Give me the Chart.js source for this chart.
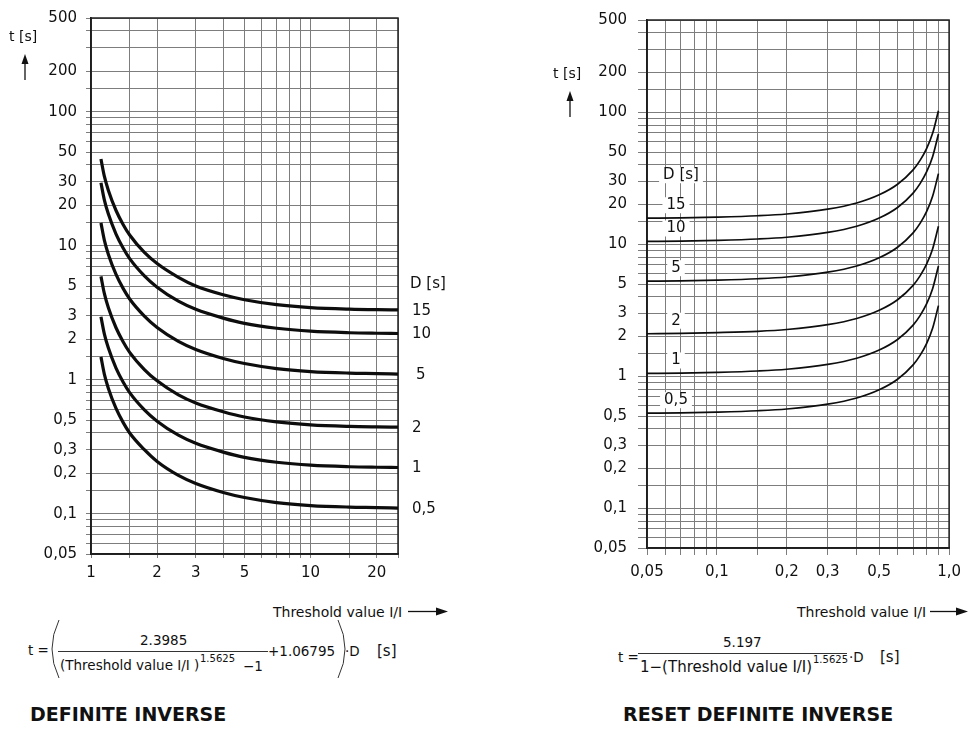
<!DOCTYPE html>
<html>
<head>
<meta charset="utf-8">
<title>Definite inverse / reset definite inverse</title>
<script src="https://cdn.jsdelivr.net/npm/chart.js@4.4.1/dist/chart.umd.min.js"></script>
<style>
  body { margin: 0; background: #fff; }
  #page { position: relative; width: 969px; height: 729px; overflow: hidden;
          font-family: "DejaVu Sans", sans-serif; color: #111; }
  #page canvas { position: absolute; top: 0; }
  .t { position: absolute; white-space: nowrap; line-height: 1; }
  .f { font-size: 13.5px; }
  .sup { font-size: 10px; }
  .title { font-weight: bold; font-size: 19px; }
  svg { position: absolute; left: 0; top: 0; pointer-events: none; }
</style>
</head>
<body>
<div id="page">
  <canvas id="leftChart" width="460" height="600" style="left:0"></canvas>
  <canvas id="rightChart" width="449" height="600" style="left:520px"></canvas>

  <!-- axis captions -->
  <div class="t" style="left:9px;top:29px;font-size:14px">t [s]</div>
  <div class="t" style="left:553px;top:66px;font-size:14px">t [s]</div>
  <div class="t" style="left:273px;top:605px;font-size:14px">Threshold value I/I</div>
  <div class="t" style="left:797px;top:605px;font-size:14px">Threshold value I/I</div>

  <!-- definite inverse formula -->
  <div class="t f" style="left:28px;top:644px">t =</div>
  <div class="t f" style="left:140px;top:634px">2.3985</div>
  <div class="t f" style="left:60px;top:659px">(Threshold value I/I )</div>
  <div class="t sup" style="left:200px;top:654px">1.5625</div>
  <div class="t f" style="left:243px;top:660px">−1</div>
  <div class="t f" style="left:268px;top:645px">+1.06795</div>
  <div class="t f" style="left:345px;top:645px">·D</div>
  <div class="t f" style="left:377px;top:644px;font-size:15px">[s]</div>

  <!-- reset definite inverse formula -->
  <div class="t f" style="left:618px;top:651px">t =</div>
  <div class="t f" style="left:723px;top:636px">5.197</div>
  <div class="t" style="left:640px;top:660px;font-size:15px">1−(Threshold value I/I)</div>
  <div class="t sup" style="left:813px;top:655px">1.5625</div>
  <div class="t f" style="left:849px;top:651px">·D</div>
  <div class="t f" style="left:880px;top:650px;font-size:15px">[s]</div>

  <div class="t title" style="left:30px;top:705px">DEFINITE INVERSE</div>
  <div class="t title" style="left:623px;top:705px">RESET DEFINITE INVERSE</div>

  <svg width="969" height="729">
    <g stroke="#111" fill="none" stroke-width="1.3">
      <line x1="25" y1="80" x2="25" y2="62"/>
      <line x1="570" y1="117" x2="570" y2="99"/>
      <line x1="408" y1="611.5" x2="437" y2="611.5"/>
      <line x1="930" y1="611.5" x2="957" y2="611.5"/>
    </g>
    <g fill="#111">
      <polygon points="25,54 21.5,64 28.5,64"/>
      <polygon points="570,91 566.5,101 573.5,101"/>
      <polygon points="448,611.5 436,607.5 436,615.5"/>
      <polygon points="968,611.5 956,607.5 956,615.5"/>
    </g>
    <g stroke="#333" fill="none" stroke-width="1">
      <line x1="58" y1="651.5" x2="268" y2="651.5"/>
      <line x1="638" y1="653.5" x2="847" y2="653.5"/>
      <path d="M59 620 Q45 649 59 678"/>
      <path d="M338 620 Q352 649 338 678"/>
    </g>
  </svg>
</div>

<script>
// Threshold values (I/I) where the curves were read
const leftThreshold = [1.11, 1.15, 1.2, 1.3, 1.4, 1.5, 1.75, 2, 2.5, 3, 4, 5, 7, 10, 15, 20, 25];
// definite inverse, t [s] per time dial D
const leftD15 = [44.3, 33.0, 25.8, 18.3, 14.4, 12.0, 8.9, 7.35, 5.8, 5.0, 4.3, 3.95, 3.63, 3.45, 3.36, 3.33, 3.32];
const leftD10 = [29.5, 22.0, 17.2, 12.2, 9.6, 8.0, 5.95, 4.9, 3.85, 3.35, 2.88, 2.63, 2.42, 2.30, 2.24, 2.22, 2.21];
const leftD5 = [14.8, 11.0, 8.6, 6.1, 4.8, 4.0, 2.98, 2.45, 1.93, 1.68, 1.44, 1.32, 1.21, 1.15, 1.12, 1.11, 1.10];
const leftD2 = [5.9, 4.4, 3.44, 2.44, 1.92, 1.6, 1.19, 0.98, 0.77, 0.67, 0.576, 0.526, 0.484, 0.46, 0.448, 0.444, 0.442];
const leftD1 = [2.95, 2.2, 1.72, 1.22, 0.96, 0.8, 0.595, 0.49, 0.385, 0.335, 0.288, 0.263, 0.242, 0.23, 0.224, 0.222, 0.221];
const leftD05 = [1.48, 1.1, 0.86, 0.61, 0.48, 0.4, 0.3, 0.245, 0.193, 0.168, 0.144, 0.132, 0.121, 0.115, 0.112, 0.111, 0.110];

const rightThreshold = [0.05, 0.07, 0.1, 0.15, 0.2, 0.3, 0.4, 0.5, 0.6, 0.7, 0.75, 0.8, 0.85, 0.9];
// reset definite inverse, t [s] per time dial D
const rightD15 = [15.75, 15.84, 16.05, 16.44, 16.95, 18.45, 20.55, 23.7, 28.5, 36.6, 43.2, 53.0, 69.5, 102.8];
const rightD10 = [10.5, 10.56, 10.7, 10.96, 11.3, 12.3, 13.7, 15.8, 19.0, 24.4, 28.8, 35.3, 46.3, 68.5];
const rightD5 = [5.25, 5.28, 5.35, 5.48, 5.65, 6.15, 6.85, 7.9, 9.5, 12.2, 14.4, 17.65, 23.2, 34.3];
const rightD2 = [2.1, 2.11, 2.14, 2.19, 2.26, 2.46, 2.74, 3.16, 3.8, 4.88, 5.76, 7.06, 9.26, 13.7];
const rightD1 = [1.05, 1.056, 1.07, 1.096, 1.13, 1.23, 1.37, 1.58, 1.9, 2.44, 2.88, 3.53, 4.63, 6.85];
const rightD05 = [0.525, 0.528, 0.535, 0.548, 0.565, 0.615, 0.685, 0.79, 0.95, 1.22, 1.44, 1.77, 2.32, 3.43];

const dialLabels = ['15', '10', '5', '2', '1', '0,5'];

// grid lines and labelled ticks
const timeGrid = [0.05, 0.06, 0.07, 0.08, 0.09, 0.1, 0.15, 0.2, 0.3, 0.4, 0.5, 0.6, 0.7, 0.8, 0.9,
  1, 1.5, 2, 3, 4, 5, 6, 7, 8, 9, 10, 15, 20, 30, 40, 50, 60, 70, 80, 90, 100, 150, 200, 300, 400, 500];
const timeTickValues = [0.05, 0.1, 0.2, 0.3, 0.5, 1, 2, 3, 5, 10, 20, 30, 50, 100, 200, 500];
const timeTickText = ['0,05', '0,1', '0,2', '0,3', '0,5', '1', '2', '3', '5', '10', '20', '30', '50', '100', '200', '500'];

const leftGrid = [1, 1.5, 2, 3, 4, 5, 6, 7, 8, 9, 10, 15, 20, 25];
const leftTickValues = [1, 2, 3, 5, 10, 20];
const leftTickText = ['1', '2', '3', '5', '10', '20'];

const rightGrid = [0.05, 0.06, 0.07, 0.08, 0.09, 0.1, 0.15, 0.2, 0.3, 0.4, 0.5, 0.6, 0.7, 0.8, 0.9, 1];
const rightTickValues = [0.05, 0.1, 0.2, 0.3, 0.5, 1];
const rightTickText = ['0,05', '0,1', '0,2', '0,3', '0,5', '1,0'];

const FONT = { family: '"DejaVu Sans", sans-serif', size: 15 };
const TEXT = '#111';
const GRID = '#7d7d7d';

function labelFor(v, values, texts) {
  const i = values.findIndex(t => Math.abs(t - v) < t * 1e-6);
  return i < 0 ? '' : texts[i];
}

function curve(xs, ys, width) {
  return {
    data: xs.map((x, i) => ({ x: x, y: ys[i] })),
    borderColor: '#0d0d0d',
    borderWidth: width,
    pointRadius: 0,
    cubicInterpolationMode: 'monotone',
    fill: false
  };
}

function logAxis(min, max, grid, values, texts, opts) {
  return {
    type: 'logarithmic',
    min: min,
    max: max,
    afterBuildTicks: s => { s.ticks = grid.map(v => ({ value: v })); },
    afterFit: opts.fit,
    ticks: {
      autoSkip: false, maxRotation: 0, minRotation: 0,
      padding: opts.padding, font: FONT, color: TEXT,
      callback: v => labelFor(v, values, texts)
    },
    grid: { color: GRID, lineWidth: 1, tickLength: opts.tick },
    border: { color: '#111', width: 1.7 }
  };
}

// closes the box on the top and right side
const frame = {
  id: 'frame',
  beforeDatasetsDraw(chart) {
    const { ctx, chartArea: a } = chart;
    ctx.save();
    ctx.strokeStyle = '#222';
    ctx.lineWidth = 1.5;
    ctx.strokeRect(a.left, a.top, a.right - a.left, a.bottom - a.top);
    ctx.restore();
  }
};

// D values written at the end of each inverse curve
const leftDialLabels = {
  id: 'leftDialLabels',
  afterDatasetsDraw(chart) {
    const ctx = chart.ctx;
    ctx.save();
    ctx.font = '15px "DejaVu Sans", sans-serif';
    ctx.fillStyle = TEXT;
    ctx.textBaseline = 'middle';
    let topY = 0;
    chart.data.datasets.forEach((ds, i) => {
      const pts = chart.getDatasetMeta(i).data;
      const y = pts[pts.length - 1].y;
      if (i === 0) topY = y;
      ctx.fillText(dialLabels[i], dialLabels[i] === '5' ? 416 : 412, y + 1);
    });
    ctx.fillText('D [s]', 410, topY - 26);
    ctx.restore();
  }
};

// D values above the start of each reset curve, on a white patch
const rightDialLabels = {
  id: 'rightDialLabels',
  afterDatasetsDraw(chart) {
    const ctx = chart.ctx;
    ctx.save();
    ctx.font = '15px "DejaVu Sans", sans-serif';
    ctx.textBaseline = 'middle';
    ctx.textAlign = 'center';
    const put = (text, x, y) => {
      const w = ctx.measureText(text).width;
      ctx.fillStyle = '#fff';
      ctx.fillRect(x - w / 2 - 4, y - 8, w + 8, 16);
      ctx.fillStyle = TEXT;
      ctx.fillText(text, x, y);
    };
    let topY = 0;
    chart.data.datasets.forEach((ds, i) => {
      const y = chart.getDatasetMeta(i).data[0].y - 13;
      if (i === 0) topY = y;
      put(dialLabels[i], 156, y);
    });
    put('D [s]', 161, topY - 30);
    ctx.restore();
  }
};

const common = {
  responsive: false,
  animation: false,
  events: [],
  plugins: { legend: { display: false }, tooltip: { enabled: false } }
};

new Chart(document.getElementById('leftChart'), {
  type: 'line',
  data: {
    datasets: [
      curve(leftThreshold, leftD15, 3.2),
      curve(leftThreshold, leftD10, 3.2),
      curve(leftThreshold, leftD5, 3.2),
      curve(leftThreshold, leftD2, 3.2),
      curve(leftThreshold, leftD1, 3.2),
      curve(leftThreshold, leftD05, 3.2)
    ]
  },
  options: Object.assign({}, common, {
    layout: { padding: { top: 15, right: 62, left: 0, bottom: 0 } },
    scales: {
      x: logAxis(1, 25, leftGrid, leftTickValues, leftTickText,
        { padding: 6, tick: 4, fit: s => { s.height = 46; } }),
      y: logAxis(0.05, 500, timeGrid, timeTickValues, timeTickText,
        { padding: 9, tick: 5, fit: s => { s.width = 91; } })
    }
  }),
  plugins: [frame, leftDialLabels]
});

new Chart(document.getElementById('rightChart'), {
  type: 'line',
  data: {
    datasets: [
      curve(rightThreshold, rightD15, 1.7),
      curve(rightThreshold, rightD10, 1.7),
      curve(rightThreshold, rightD5, 1.7),
      curve(rightThreshold, rightD2, 1.7),
      curve(rightThreshold, rightD1, 1.7),
      curve(rightThreshold, rightD05, 1.7)
    ]
  },
  options: Object.assign({}, common, {
    layout: { padding: { top: 15, right: 14, left: 0, bottom: 0 } },
    scales: {
      x: logAxis(0.05, 1, rightGrid, rightTickValues, rightTickText,
        { padding: 8, tick: 7, fit: s => { s.height = 52; } }),
      y: logAxis(0.05, 500, timeGrid, timeTickValues, timeTickText,
        { padding: 11, tick: 9, fit: s => { s.width = 127; } })
    }
  }),
  plugins: [frame, rightDialLabels]
});
</script>
</body>
</html>
